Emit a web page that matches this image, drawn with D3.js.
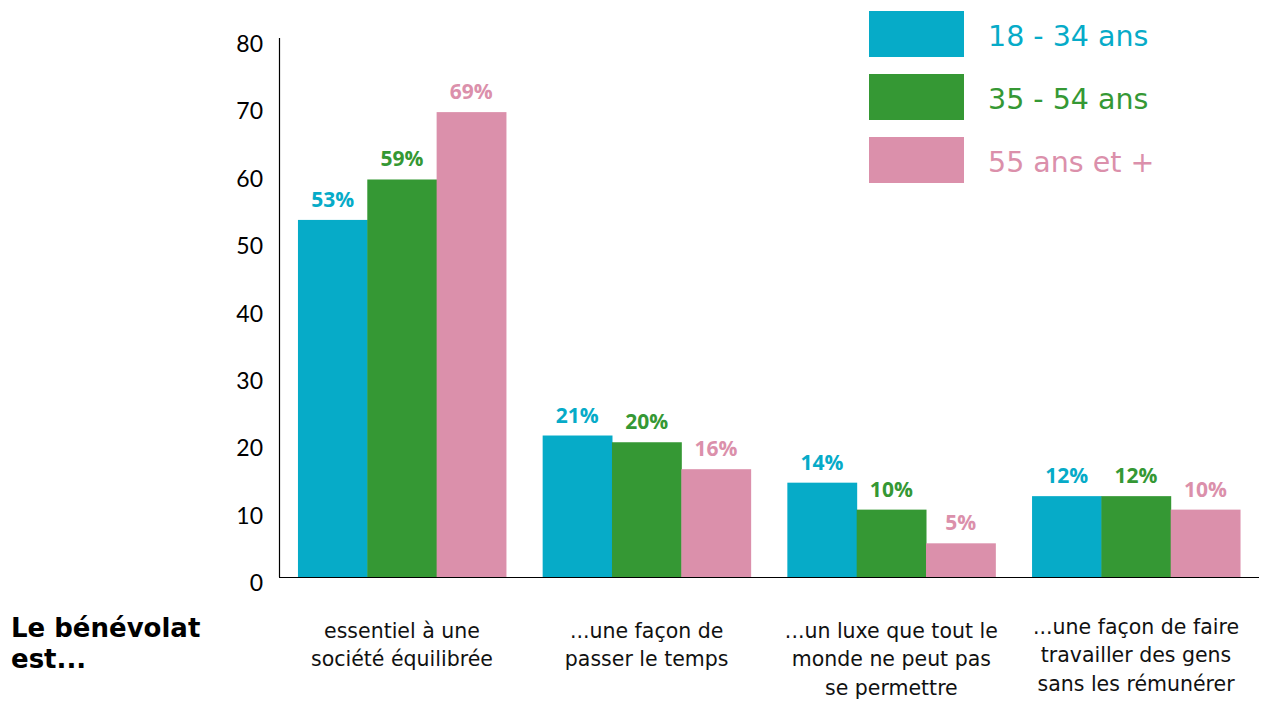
<!DOCTYPE html>
<html>
<head>
<meta charset="utf-8">
<script src="https://cdn.jsdelivr.net/npm/d3@7"></script>
<style>
  html, body { margin: 0; padding: 0; background: #fff; }
  svg { display: block; }
</style>
</head>
<body>
<svg id="chart" width="1264" height="701"></svg>
<script>
// ---- Data ----
const categories = [
  ["essentiel à une", "société équilibrée"],
  ["...une façon de", "passer le temps"],
  ["...un luxe que tout le", "monde ne peut pas", "se permettre"],
  ["...une façon de faire", "travailler des gens", "sans les rémunérer"]
];
const seriesNames = ["18 - 34 ans", "35 - 54 ans", "55 ans et +"];
const values18_34 = [53, 21, 14, 12];
const values35_54 = [59, 20, 10, 12];
const values55plus = [69, 16, 5, 10];
const yTicks = [0, 10, 20, 30, 40, 50, 60, 70, 80];
const leadLabel = ["Le bénévolat", "est..."];

const colors = ["#06abc8", "#359834", "#db90ab"];
const seriesValues = [values18_34, values35_54, values55plus];

const svg = d3.select("#chart");
const tickFont = "Lato, 'Open Sans', sans-serif";
const valueFont = "'Open Sans', Lato, sans-serif";
const textFont = "'DejaVu Sans', 'Open Sans', sans-serif";

const x0 = d3.scaleBand()
  .domain(d3.range(categories.length))
  .range([279, 1259])
  .paddingInner(0.15)
  .paddingOuter(0.0775);
const x1 = d3.scaleBand()
  .domain(d3.range(seriesNames.length))
  .range([0, x0.bandwidth()]);
const y = d3.scaleLinear().domain([0, 80]).range([577, 38]);

// Y axis line
svg.append("line")
  .attr("x1", 279.5).attr("x2", 279.5)
  .attr("y1", y(80)).attr("y2", y(0))
  .attr("stroke", "#000").attr("stroke-width", 1.2);

// Y tick labels
svg.append("g").selectAll("text").data(yTicks).join("text")
  .attr("x", 263)
  .attr("y", d => y(d) + 6)
  .attr("dy", "0.35em")
  .attr("text-anchor", "end")
  .attr("font-family", tickFont)
  .attr("font-size", 23)
  .attr("fill", "#000")
  .text(d => d);

// Bars
const groups = svg.append("g").selectAll("g").data(categories).join("g")
  .attr("transform", (d, i) => `translate(${x0(i)},0)`);

groups.each(function(cat, ci) {
  const g = d3.select(this);
  seriesValues.forEach((vals, si) => {
    const v = vals[ci];
    g.append("rect")
      .attr("x", x1(si))
      .attr("y", y(v))
      .attr("width", x1.bandwidth() + 0.5)
      .attr("height", y(0) - y(v))
      .attr("fill", colors[si]);
    g.append("text")
      .attr("x", x1(si) + x1.bandwidth() / 2)
      .attr("y", y(v) - 13)
      .attr("text-anchor", "middle")
      .attr("font-family", valueFont)
      .attr("font-weight", "bold")
      .attr("font-size", 21)
      .attr("fill", colors[si])
      .text(v + "%");
  });
});

// X axis baseline
svg.append("line")
  .attr("x1", 279).attr("x2", 1259)
  .attr("y1", y(0) + 0.5).attr("y2", y(0) + 0.5)
  .attr("stroke", "#000").attr("stroke-width", 1.2);

// Category labels
categories.forEach((lines, ci) => {
  const cx = x0(ci) + x0.bandwidth() / 2;
  const startY = ci === 3 ? 634 : 638;
  const t = svg.append("text")
    .attr("text-anchor", "middle")
    .attr("font-family", textFont)
    .attr("font-size", 20.5)
    .attr("fill", "#111");
  lines.forEach((ln, li) => {
    t.append("tspan").attr("x", cx).attr("y", startY + li * 28.3).text(ln);
  });
});

// Lead label
const lead = svg.append("text")
  .attr("font-family", textFont)
  .attr("font-weight", "bold")
  .attr("font-size", 26)
  .attr("fill", "#000");
leadLabel.forEach((ln, i) => {
  lead.append("tspan").attr("x", 11).attr("y", 637 + i * 31).text(ln);
});

// Legend
const legend = svg.append("g").selectAll("g").data(seriesNames).join("g")
  .attr("transform", (d, i) => `translate(869,${11 + i * 63})`);
legend.append("rect")
  .attr("width", 95).attr("height", 46)
  .attr("fill", (d, i) => colors[i]);
legend.append("text")
  .attr("x", 119)
  .attr("y", 25)
  .attr("dy", "0.35em")
  .attr("font-family", textFont)
  .attr("font-size", 28.5)
  .attr("fill", (d, i) => colors[i])
  .text(d => d);
</script>
</body>
</html>
